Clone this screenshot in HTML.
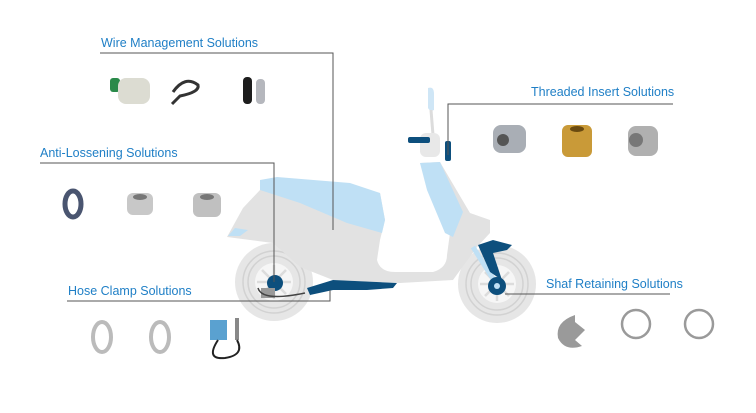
<!DOCTYPE html>
<html><head><meta charset="utf-8"><style>
html,body{margin:0;padding:0;background:#fff;}
svg{display:block;}
text{font-family:"Liberation Sans",sans-serif;font-size:12.5px;fill:#1f7fc6;}
</style></head><body>
<svg width="756" height="413" viewBox="0 0 756 413" xmlns="http://www.w3.org/2000/svg">
<!-- wheels -->
<circle cx="274" cy="282" r="39" fill="#e6e6e6"/>
<circle cx="497" cy="284" r="39" fill="#e6e6e6"/>
<g fill="none" stroke="#d2d2d2" stroke-width="1.5">
 <circle cx="274" cy="282" r="31"/><circle cx="274" cy="282" r="26"/>
 <circle cx="497" cy="284" r="31"/><circle cx="497" cy="284" r="26"/>
</g>
<circle cx="274" cy="282" r="19" fill="#f6f6f6"/>
<circle cx="497" cy="284" r="19" fill="#f6f6f6"/>
<g stroke="#dcdcdc" stroke-width="2.5">
 <path d="M274 265 V299 M257 282 H291 M262 270 L286 294 M286 270 L262 294"/>
 <path d="M497 267 V301 M480 284 H514 M485 272 L509 296 M509 272 L485 296"/>
</g>
<!-- body -->
<path d="M227 237 L243 208 L260 190 L300 180 L340 187 L380 193 L385 220 L380 240 L377 260 Q380 272 395 272 L433 272 Q447 268 447 255 L450 233 L420 163 L440 162 L470 213 L490 220 L490 233 L477 247 L453 280 L400 283 L333 280 L300 267 L273 243 Z" fill="#e2e2e2"/>
<path d="M260 190 L260 180 L277 177 L350 183 L380 193 L385 220 L382 233 L347 223 L300 203 Z" fill="#bfe0f5"/>
<path d="M420 163 L440 162 L463 212 L453 237 L445 233 L427 190 Z" fill="#bfe0f5"/>
<path d="M228 236 L235 228 L248 230 L240 236 Z" fill="#bfe0f5"/>
<!-- mirror/handle -->
<path d="M428 88 Q434 86 434 94 L434 110 Q430 112 428 108 Z" fill="#cfe6f6"/>
<path d="M431 110 L433 135" stroke="#dcdcdc" stroke-width="3" fill="none"/>
<rect x="420" y="133" width="20" height="24" rx="6" fill="#e8e8e8"/>
<rect x="408" y="137" width="22" height="6" rx="2" fill="#0d4f7d"/>
<rect x="445" y="141" width="6" height="20" rx="2" fill="#0d4f7d"/>
<!-- front fork/fender -->
<path d="M473 247 L497 285" stroke="#bfe0f5" stroke-width="5"/>
<path d="M478 245 L493 240 L512 245 L507 250 L493 253 L502 280 L490 272 Z" fill="#0d4f7d"/>
<circle cx="497" cy="286" r="9" fill="#0d4f7d"/>
<circle cx="497" cy="286" r="3" fill="#bfe0f5"/>
<!-- rear hub -->
<circle cx="275" cy="283" r="8" fill="#0d4f7d"/>
<path d="M307 288 L333 280 L397 283 L393 288 L367 290 L333 290 L310 295 Z" fill="#0d4f7d"/>
<rect x="261" y="288" width="14" height="10" fill="#9a9a9a"/>
<path d="M258 288 Q262 302 305 293" stroke="#444" stroke-width="1.5" fill="none"/>
<!-- leader lines -->
<g stroke="#555" stroke-width="1" fill="none">
 <polyline points="100,53 333,53 333,230"/>
 <polyline points="40,163 274,163 274,282"/>
 <polyline points="67,301 330,301 330,290"/>
 <polyline points="673,104 448,104 448,155"/>
 <polyline points="505,294 670,294"/>
</g>
<!-- labels -->
<text x="101" y="47">Wire Management Solutions</text>
<text x="40" y="157">Anti-Lossening Solutions</text>
<text x="68" y="295">Hose Clamp Solutions</text>
<text x="531" y="96">Threaded Insert Solutions</text>
<text x="546" y="288">Shaf Retaining Solutions</text>
<!-- wire -->
<rect x="110" y="78" width="10" height="14" rx="3" fill="#2a8a4a"/>
<rect x="118" y="78" width="32" height="26" rx="8" fill="#dcdcd2"/>
<path d="M173 92 Q185 75 198 85 Q200 92 180 96 L172 104" stroke="#333" stroke-width="3" fill="none"/>
<rect x="243" y="77" width="9" height="27" rx="4" fill="#1d1d1d"/>
<rect x="256" y="79" width="9" height="25" rx="4" fill="#b5b7bd"/>
<!-- anti-loosening -->
<ellipse cx="73" cy="204" rx="8" ry="13" fill="none" stroke="#4a5570" stroke-width="5"/>
<rect x="127" y="193" width="26" height="22" rx="6" fill="#c8c8c8"/>
<ellipse cx="140" cy="197" rx="7" ry="3" fill="#777"/>
<rect x="193" y="193" width="28" height="24" rx="6" fill="#c0c0c0"/>
<ellipse cx="207" cy="197" rx="7" ry="3" fill="#777"/>
<!-- threaded inserts -->
<rect x="493" y="125" width="33" height="28" rx="8" fill="#a9aeb5"/>
<circle cx="503" cy="140" r="6" fill="#555"/>
<rect x="562" y="125" width="30" height="32" rx="6" fill="#c99a38"/>
<ellipse cx="577" cy="129" rx="7" ry="3" fill="#6a4a10"/>
<rect x="628" y="126" width="30" height="30" rx="8" fill="#b0b0b0"/>
<circle cx="636" cy="140" r="7" fill="#777"/>
<!-- hose clamps -->
<ellipse cx="102" cy="337" rx="9" ry="15" fill="none" stroke="#bbb" stroke-width="4"/>
<ellipse cx="160" cy="337" rx="9" ry="15" fill="none" stroke="#bbb" stroke-width="4"/>
<rect x="210" y="320" width="17" height="20" fill="#5aa1d0"/>
<rect x="235" y="318" width="4" height="22" fill="#888"/>
<path d="M218 340 Q205 360 225 358 Q245 355 237 340" stroke="#222" stroke-width="2" fill="none"/>
<!-- shaft rings -->
<path d="M575 315 Q555 322 558 338 Q565 352 582 346 L575 340 L585 330 L575 322 Z" fill="#9a9a9a"/>
<circle cx="636" cy="324" r="14" fill="none" stroke="#9a9a9a" stroke-width="2.5"/>
<circle cx="699" cy="324" r="14" fill="none" stroke="#9a9a9a" stroke-width="2.5"/>
</svg>
</body></html>
